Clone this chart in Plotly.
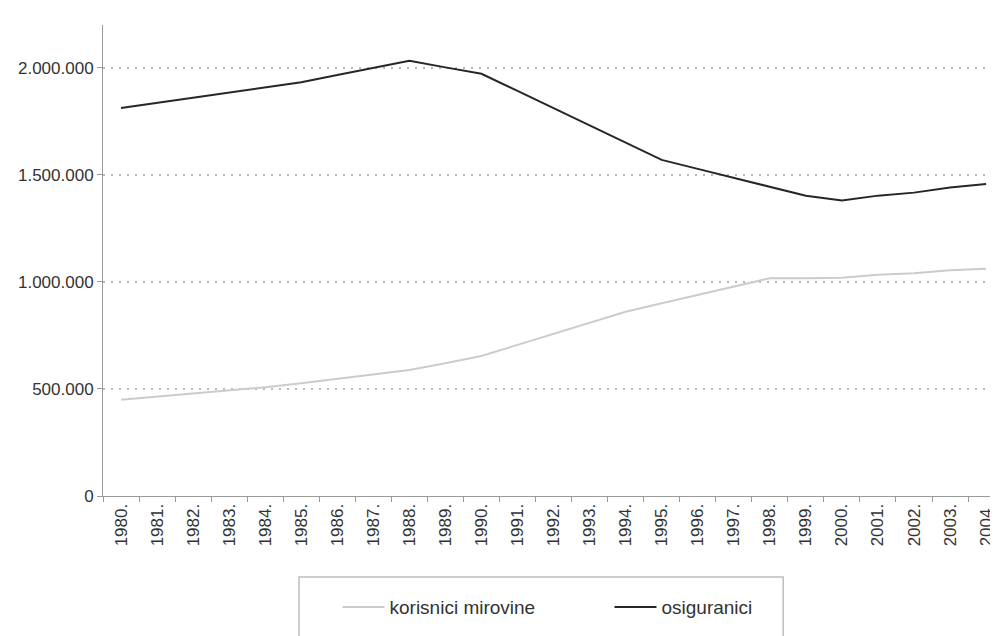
import plotly.graph_objects as go

## years on the x axis (category labels as in the source)
years = ["1980.", "1981.", "1982.", "1983.", "1984.", "1985.", "1986.", "1987.", "1988.",
         "1989.", "1990.", "1991.", "1992.", "1993.", "1994.", "1995.", "1996.", "1997.",
         "1998.", "1999.", "2000.", "2001.", "2002.", "2003.", "2004."]

## pension beneficiaries
korisnici = [449000, 464000, 478000, 492000, 508000, 527000, 547000, 568000, 589000,
             620000, 654000, 706000, 757000, 809000, 861000, 900000, 939000, 978000,
             1017000, 1017000, 1020000, 1033000, 1041000, 1055000, 1062000]

## insured persons
osiguranici = [1812000, 1836000, 1860000, 1884000, 1908000, 1933000, 1966000, 2000000,
               2033000, 2002000, 1972000, 1892000, 1812000, 1731000, 1651000, 1570000,
               1528000, 1486000, 1444000, 1402000, 1380000, 1403000, 1417000, 1441000, 1457000]

y_ticks = [0, 500000, 1000000, 1500000, 2000000]

fnt = "Liberation Sans, Arial, sans-serif"

fig = go.Figure()
fig.add_trace(go.Scatter(x=years, y=korisnici, mode="lines", name="korisnici mirovine",
                         line=dict(color="#cccccc", width=2)))
fig.add_trace(go.Scatter(x=years, y=osiguranici, mode="lines", name="osiguranici",
                         line=dict(color="#262626", width=2)))

fig.update_xaxes(type="category", range=[-0.5, 24.33], tickangle=-90, ticks="outside",
                 tickson="boundaries", ticklen=5, tickcolor="#9a9a9a", tickwidth=1,
                 showline=True, linecolor="#9a9a9a", linewidth=1, showgrid=False,
                 tickfont=dict(family=fnt, size=17, color="#333333"))
fig.update_yaxes(range=[0, 2200000], tickvals=y_ticks, tickformat=",d", ticks="outside",
                 ticklen=5, tickcolor="#9a9a9a", showline=True, linecolor="#9a9a9a",
                 linewidth=1, showgrid=True, gridcolor="#b8b8b8", griddash="2px,6px",
                 gridwidth=1.5, zeroline=False,
                 tickfont=dict(family=fnt, size=17, color="#333333"))

## legend frame (runs off the bottom of the page like in the source)
fig.add_shape(type="rect", xref="paper", yref="paper", x0=0.219, x1=0.760, y0=-0.172, y1=-0.45,
              line=dict(color="#bdbdbd", width=1.5), fillcolor="rgba(0,0,0,0)")

## page body has an 8px margin, so the figure is a bit smaller than the window
fig.update_layout(width=990, height=628, plot_bgcolor="white", paper_bgcolor="white",
                  separators=",.", margin=dict(l=95, r=0, t=17, b=140),
                  showlegend=True,
                  legend=dict(orientation="h", x=0.262, xanchor="left", y=-0.236, yanchor="middle",
                              itemwidth=42, entrywidth=215,
                              font=dict(family=fnt, size=19, color="#333333"),
                              bgcolor="rgba(0,0,0,0)"))

fig.write_html("out.html")
